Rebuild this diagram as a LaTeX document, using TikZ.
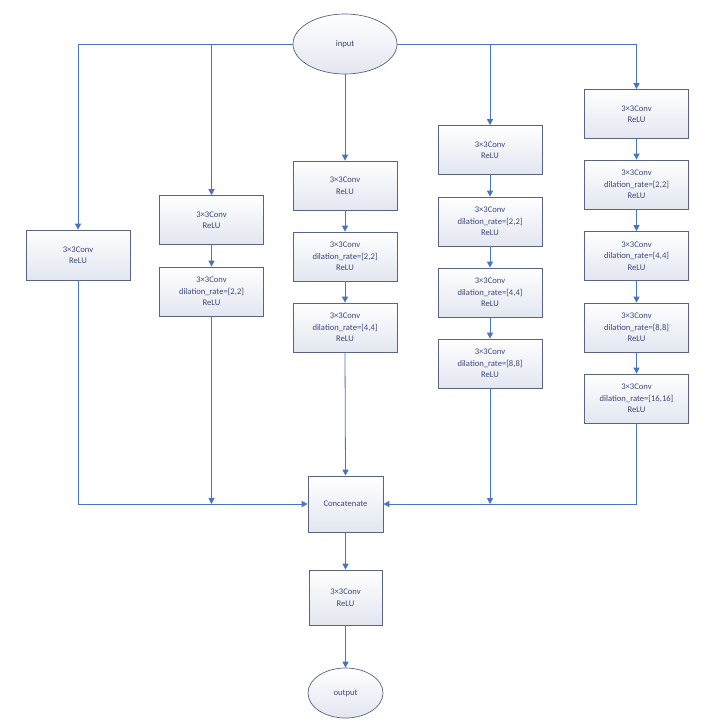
\documentclass[tikz,border=0pt]{standalone}
\usepackage{fontspec}
\setmainfont{Carlito}
\usetikzlibrary{arrows.meta,shapes.geometric}
\definecolor{linec}{HTML}{4A74C0}
\definecolor{edgec}{HTML}{5A6482}
\definecolor{txtc}{HTML}{3C4A78}
\definecolor{shadec}{HTML}{E2E6F0}
\tikzset{
  box/.style={draw=edgec, line width=0.7pt, top color=white, bottom color=shadec,
    text=txtc, font=\fontsize{8.6}{11.5}\selectfont, align=center,
    minimum width=104pt, minimum height=50pt, inner sep=0pt},
  oval/.style={ellipse, draw=edgec, line width=0.7pt, top color=white, bottom color=shadec,
    text=txtc, font=\fontsize{8.6}{11.5}\selectfont, inner sep=0pt},
  conn/.style={draw=linec, line width=0.8pt},
  arr/.style={conn, -{Triangle[width=6pt,length=6pt]}}
}
\begin{document}
\begin{tikzpicture}[x=1pt,y=-1pt]
\useasboundingbox (0,0) rectangle (713,725);
\fill[white] (0,0) rectangle (713,725);
\node[oval, minimum width=104pt, minimum height=60pt] (in) at (345,44) {input};
% column 1
\node[box] (c1a) at (78,255) {3×3Conv\\ReLU};
% column 2
\node[box, minimum height=49pt] (c2a) at (211.5,220) {3×3Conv\\ReLU};
\node[box, minimum height=49pt] (c2b) at (211.5,291.5) {3×3Conv\\dilation\_rate=[2,2]\\ReLU};
% column 3
\node[box, minimum height=49pt] (c3a) at (345,185.5) {3×3Conv\\ReLU};
\node[box, minimum height=49pt] (c3b) at (345,256.5) {3×3Conv\\dilation\_rate=[2,2]\\ReLU};
\node[box, minimum height=49pt] (c3c) at (345,327.5) {3×3Conv\\dilation\_rate=[4,4]\\ReLU};
% column 4
\node[box, minimum height=49pt] (c4a) at (490,150) {3×3Conv\\ReLU};
\node[box, minimum height=49pt] (c4b) at (490,221.5) {3×3Conv\\dilation\_rate=[2,2]\\ReLU};
\node[box, minimum height=49pt] (c4c) at (490,292.5) {3×3Conv\\dilation\_rate=[4,4]\\ReLU};
\node[box, minimum height=49pt] (c4d) at (490,363.5) {3×3Conv\\dilation\_rate=[8,8]\\ReLU};
% column 5
\node[box, minimum height=49pt] (c5a) at (636.5,114) {3×3Conv\\ReLU};
\node[box, minimum height=49pt] (c5b) at (636.5,184.5) {3×3Conv\\dilation\_rate=[2,2]\\ReLU};
\node[box, minimum height=49pt] (c5c) at (636.5,256) {3×3Conv\\dilation\_rate=[4,4]\\ReLU};
\node[box, minimum height=49pt] (c5d) at (636.5,327.5) {3×3Conv\\dilation\_rate=[8,8]\\ReLU};
\node[box, minimum height=49pt] (c5e) at (636.5,398.5) {3×3Conv\\dilation\_rate=[16,16]\\ReLU};
% bottom
\node[box, minimum width=75pt, minimum height=56pt] (cat) at (345.5,504) {Concatenate};
\node[box, minimum width=73pt, minimum height=55pt] (oc) at (345.5,597.5) {3×3Conv\\ReLU};
\node[oval, minimum width=75pt, minimum height=50pt] (out) at (345.5,693) {output};
% input fan-out
\draw[arr] (in.west) -| (c1a.north);
\draw[arr] (in.west) -| (c2a.north);
\draw[arr] (in.south) -- (c3a.north);
\draw[arr] (in.east) -| (c4a.north);
\draw[arr] (in.east) -| (c5a.north);
% chains
\draw[arr] (c2a) -- (c2b);
\draw[arr] (c3a) -- (c3b);
\draw[arr] (c3b) -- (c3c);
\draw[arr] (c4a) -- (c4b);
\draw[arr] (c4b) -- (c4c);
\draw[arr] (c4c) -- (c4d);
\draw[arr] (c5a) -- (c5b);
\draw[arr] (c5b) -- (c5c);
\draw[arr] (c5c) -- (c5d);
\draw[arr] (c5d) -- (c5e);
% gather
\draw[arr] (c1a.south) |- (cat.west);
\draw[arr] (c5e.south) |- (cat.east);
\draw[arr] (c2b.south) -- (c2b.south |- cat.west);
\draw[arr] (c4d.south) -- (c4d.south |- cat.east);
\draw[arr] (c3c.south) -- (cat.north);
\draw[arr] (cat) -- (oc);
\draw[arr] (oc) -- (out);
\end{tikzpicture}
\end{document}
